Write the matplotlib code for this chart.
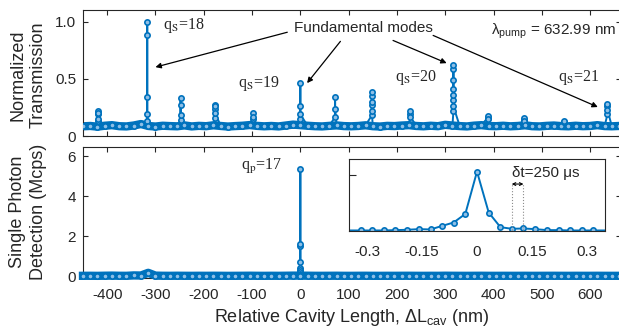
import numpy as np
import matplotlib
matplotlib.use("Agg")
import matplotlib.pyplot as plt

plt.rcParams["font.family"] = "Liberation Sans"
plt.rcParams["mathtext.fontset"] = "custom"
plt.rcParams["mathtext.rm"] = "Liberation Sans"
plt.rcParams["mathtext.it"] = "Liberation Sans:italic"
plt.rcParams["axes.unicode_minus"] = False

BLUE = "#0072BD"
FACE = "#8fbfe6"
TXT = "#262626"

# cavity sweep grid (nm) and the off-resonance floor read along it
scan_x = np.arange(-450, 661, 15)
trans_base = [
    0.085, 0.088, 0.082, 0.090, 0.095, 0.086, 0.084, 0.092, 0.105, 0.088, 0.083, 0.090, 0.087, 0.085, 0.093,
    0.084, 0.089, 0.086, 0.094, 0.088, 0.083, 0.087, 0.090, 0.096, 0.089, 0.085, 0.088, 0.084, 0.092, 0.100,
    0.095, 0.090, 0.086, 0.084, 0.089, 0.093, 0.087, 0.085, 0.088, 0.094, 0.086, 0.083, 0.089, 0.087, 0.092,
    0.095, 0.088, 0.085, 0.090, 0.086, 0.098, 0.092, 0.087, 0.084, 0.091, 0.095, 0.088, 0.086, 0.090, 0.085,
    0.088, 0.094, 0.086, 0.084, 0.089, 0.092, 0.087, 0.085, 0.090, 0.086, 0.088, 0.095, 0.087, 0.085, 0.088,
]
count_base = [
    0.010, 0.012, 0.008, 0.015, 0.020, 0.012, 0.010, 0.030, 0.025, 0.160, 0.020, 0.012, 0.010, 0.014, 0.011,
    0.009, 0.012, 0.010, 0.013, 0.011, 0.008, 0.010, 0.012, 0.015, 0.011, 0.009, 0.012, 0.010, 0.014, 0.020,
    0.020, 0.015, 0.011, 0.010, 0.012, 0.014, 0.010, 0.009, 0.012, 0.013, 0.010, 0.009, 0.011, 0.010, 0.012,
    0.013, 0.010, 0.009, 0.011, 0.010, 0.015, 0.012, 0.010, 0.009, 0.011, 0.013, 0.010, 0.009, 0.011, 0.010,
    0.010, 0.012, 0.009, 0.010, 0.011, 0.012, 0.010, 0.009, 0.011, 0.010, 0.010, 0.012, 0.010, 0.009, 0.010,
]

# transmission resonances: position and the samples caught on each one
trans_peak_x = [-419, -317, -248, -176, -99, 0, 72, 148, 228, 317, 388, 464, 545, 636]
trans_peak_y = [
    [0.13, 0.19, 0.216, 0.20, 0.15],
    [0.13, 0.34, 1.0, 0.883, 0.19],
    [0.14, 0.27, 0.33, 0.18],
    [0.16, 0.24, 0.27, 0.26, 0.20],
    [0.15, 0.20, 0.17],
    [0.15, 0.26, 0.465, 0.19],
    [0.167, 0.342, 0.237],
    [0.18, 0.27, 0.35, 0.383, 0.30, 0.22],
    [0.19, 0.216, 0.17],
    [0.216, 0.32, 0.413, 0.588, 0.623, 0.494, 0.357, 0.26],
    [0.16, 0.178, 0.15],
    [0.14, 0.16, 0.13],
    [0.12, 0.13],
    [0.19, 0.26, 0.283, 0.23],
]

# photon counts across the q_p = 17 resonance (Mcps)
zoom_x = [-0.318, -0.286, -0.254, -0.223, -0.191, -0.159, -0.127, -0.095, -0.064, -0.032, 0.0,
          0.032, 0.064, 0.095, 0.127, 0.159, 0.191, 0.223, 0.254, 0.286, 0.318]
zoom_y = [0.0, 0.0, 0.0, 0.03, 0.06, 0.12, 0.09, 0.42, 0.72, 1.50, 5.35,
          1.63, 0.30, 0.15, 0.18, 0.12, 0.03, 0.03, 0.0, 0.0, 0.0]

x_ticks = [-400, -300, -200, -100, 0, 100, 200, 300, 400, 500, 600]
zoom_ticks = [-0.3, -0.15, 0, 0.15, 0.3]
zoom_labels = ["-0.3", "-0.15", "0", "0.15", "0.3"]


def merge(gx, gy, px, py):
    x = list(gx) + list(px)
    y = list(gy) + list(py)
    order = np.argsort(x, kind="stable")
    return np.asarray(x)[order], np.asarray(y)[order]


tx, ty = [], []
for p, hs in zip(trans_peak_x, trans_peak_y):
    tx += [p] * len(hs)
    ty += hs
top_x, top_y = merge(scan_x, trans_base, tx, ty)

keep = np.abs(scan_x) > 0.5
bot_gx = scan_x[keep]
bot_gy = np.asarray(count_base)[keep]
bot_x, bot_y = merge(bot_gx, bot_gy, zoom_x, zoom_y)

mk = dict(color=BLUE, lw=1.4, marker="o", ms=3.8, mew=1.2, mfc=FACE, mec=BLUE)

fig = plt.figure(figsize=(6.19, 3.32), dpi=100)
ax1 = fig.add_axes([83 / 619, 1 - 136 / 332, 538 / 619, 126 / 332])
ax2 = fig.add_axes([83 / 619, 1 - 278 / 332, 538 / 619, 131 / 332])

for ax in (ax1, ax2):
    ax.tick_params(direction="in", top=True, right=True, length=3.6, width=0.8,
                   labelsize=11, colors=TXT, pad=5)
    ax.tick_params(axis="x", pad=7)
    ax.set_xlim(-450, 664)
    ax.set_xticks(x_ticks)
    for s in ax.spines.values():
        s.set_linewidth(0.8)
        s.set_color(TXT)

# top: transmission
ax1.plot(scan_x, trans_base, color=BLUE, lw=6, zorder=2)
ax1.plot(top_x, top_y, zorder=3, **mk)
ax1.set_ylim(0, 1.105)
ax1.set_yticks([0, 0.5, 1.0])
ax1.set_yticklabels(["0", "0.5", "1.0"])
ax1.set_xticklabels([])

# bottom: detector counts
ax2.plot(bot_gx, bot_gy, color=BLUE, lw=6, zorder=3, clip_on=False)
ax2.plot(bot_x, bot_y, zorder=3, clip_on=False, **mk)
ax2.set_ylim(-0.1, 6.47)
ax2.set_yticks([0, 2, 4, 6])
ax2.set_xticklabels([str(t) for t in x_ticks])
ax2.set_xlabel(r"Relative Cavity Length, ΔL$_{\mathrm{cav}}$ (nm)", fontsize=13, color=TXT, labelpad=4)

fig.text(28 / 619, 1 - 75 / 332, "Normalized\nTransmission", rotation=90, ha="center", va="center",
         fontsize=13, color=TXT, linespacing=1.25)
fig.text(28 / 619, 1 - 212 / 332, "Single Photon\nDetection (Mcps)", rotation=90, ha="center",
         va="center", fontsize=13, color=TXT, linespacing=1.25)

# mode labels
serif = dict(family="Liberation Serif", math_fontfamily="stix", fontsize=11.5, color=TXT, va="center")
ax1.text(-285, 0.967, r"q$_\mathrm{S}$=18", **serif)
ax1.text(-130, 0.458, r"q$_\mathrm{S}$=19", **serif)
ax1.text(197, 0.511, r"q$_\mathrm{S}$=20", **serif)
ax1.text(534, 0.515, r"q$_\mathrm{S}$=21", **serif)
ax2.text(-123, 5.48, r"q$_\mathrm{p}$=17", **serif)

ax1.text(130, 0.945, "Fundamental modes", ha="center", va="center", fontsize=11, color=TXT)
arrows = [((-27, 0.91), (-300, 0.604)),
          ((83, 0.83), (14, 0.464)),
          ((192, 0.838), (303, 0.639)),
          ((275, 0.882), (616, 0.254))]
for start, head in arrows:
    ax1.annotate("", xy=head, xytext=start,
                 arrowprops=dict(arrowstyle="-|>", lw=0.9, color="k", mutation_scale=8,
                                 shrinkA=0, shrinkB=0))
ax1.text(654, 0.92, r"λ$_{\mathrm{pump}}$ = 632.99 nm", ha="right", va="center", fontsize=11, color=TXT)

# inset: the q_p = 17 line on a fine scale
ins = fig.add_axes([349 / 619, 1 - 231 / 332, 256 / 619, 71.7 / 332], zorder=5)
ins.plot(bot_x, bot_y, **mk)
ins.set_xlim(-0.35, 0.35)
ins.set_ylim(-0.05, 6.47)
ins.set_xticks(zoom_ticks)
ins.set_xticklabels(zoom_labels)
ins.set_yticks([5])
ins.set_yticklabels([])
ins.tick_params(axis="x", length=0, labelsize=11, colors=TXT, pad=10)
ins.tick_params(axis="y", direction="in", length=5, width=0.8, colors=TXT)
for s in ins.spines.values():
    s.set_linewidth(0.8)
    s.set_color(TXT)

t0, t1 = zoom_x[13], zoom_x[14]
ins.vlines([t0, t1], 0, 4.22, colors="#8c8c8c", linestyles=":", lw=0.8)
ins.annotate("", xy=(t1, 4.22), xytext=(t0, 4.22),
             arrowprops=dict(arrowstyle="<->", lw=0.8, color="k", mutation_scale=5,
                             shrinkA=0, shrinkB=0))
ins.text(t0, 5.22, "δt=250 μs", ha="left", va="center", fontsize=11, color=TXT)

fig.savefig("out.png", dpi=100)
